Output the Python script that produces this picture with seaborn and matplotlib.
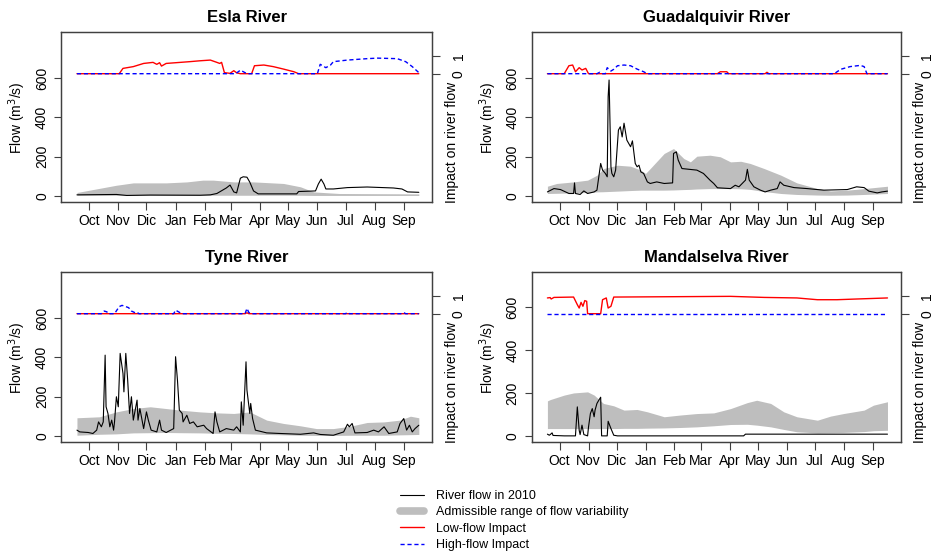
import matplotlib
matplotlib.use("Agg")
import matplotlib.pyplot as plt
from matplotlib.lines import Line2D
import seaborn as sns

sns.set_style("ticks")
plt.rcParams["font.family"] = ["Liberation Sans", "DejaVu Sans"]
plt.rcParams["text.color"] = "black"
plt.rcParams["axes.labelcolor"] = "black"
plt.rcParams["xtick.color"] = "#404040"
plt.rcParams["ytick.color"] = "#404040"
plt.rcParams["xtick.labelcolor"] = "black"
plt.rcParams["ytick.labelcolor"] = "black"

# month labels sit at mid-month (day 1 = 1 Oct)
months = ["Oct", "Nov", "Dic", "Jan", "Feb", "Mar", "Apr", "May", "Jun", "Jul", "Aug", "Sep"]
month_days = [14, 45, 75, 106, 137, 165, 196, 226, 257, 287, 318, 349]

# ---- Esla ----
esla_flow_day = [1, 43, 54, 79, 132, 143, 150, 160, 164, 168, 171, 175, 178, 182, 185, 189, 194,
                 235, 237, 255, 258, 261, 264, 266, 274, 289, 310, 338, 347, 353, 365]
esla_flow = [5, 7, 2, 4, 3, 5, 12, 40, 55, 20, 15, 90, 97, 95, 70, 25, 10,
             10, 22, 25, 60, 85, 60, 35, 35, 42, 45, 40, 35, 20, 18]
esla_band_day = [1, 43, 61, 96, 118, 135, 146, 168, 189, 221, 239, 253, 280, 365]
esla_band_lo = [3, 3, 3, 3, 3, 3, 3, 3, 3, 3, 3, 2, 2, 2]
esla_band_hi = [17, 54, 66, 66, 71, 80, 80, 71, 71, 63, 46, 20, 12, 10]
esla_low_day = [1, 46, 50, 61, 72, 82, 86, 89, 91, 96, 111, 121, 132, 143, 150, 153, 155, 158,
                164, 168, 171, 175, 187, 190, 200, 210, 221, 232, 237, 365]
esla_low = [0, 0, 0.3, 0.4, 0.58, 0.64, 0.53, 0.62, 0.43, 0.58, 0.64, 0.68, 0.73, 0.77, 0.64, 0.58,
            0.64, 0.06, 0.02, 0.17, 0.05, 0, 0, 0.45, 0.49, 0.40, 0.26, 0.11, 0, 0]
esla_high_day = [1, 170, 175, 182, 257, 260, 266, 271, 274, 289, 310, 321, 342, 351, 358, 365]
esla_high = [0, 0, 0.2, 0, 0, 0.53, 0.34, 0.49, 0.68, 0.77, 0.85, 0.88, 0.85, 0.68, 0.4, 0.06]

# ---- Guadalquivir ----
guad_flow_day = [1, 8, 15, 24, 29, 30, 31, 36, 40, 44, 51, 54, 56, 58, 60, 63, 65, 66, 67, 69, 70,
                 72, 74, 77, 79, 81, 83, 86, 90, 92, 95, 97, 99, 101, 104, 108, 111, 118, 126,
                 135, 136, 139, 141, 145, 161, 168, 175, 179, 183, 197, 202, 206, 213, 215, 217,
                 222, 229, 234, 240, 247, 250, 254, 265, 279, 290, 297, 322, 332, 340, 345, 354,
                 359, 365]
guad_flow = [20, 37, 32, 12, 12, 66, 12, 7, 25, 12, 20, 29, 97, 165, 131, 114, 97, 505, 590, 148,
             114, 97, 131, 335, 352, 300, 370, 284, 250, 280, 165, 148, 156, 122, 114, 71, 63, 71,
             63, 66, 216, 224, 182, 139, 131, 114, 80, 63, 41, 37, 54, 46, 80, 135, 80, 46, 29,
             20, 29, 37, 71, 54, 42, 37, 32, 29, 32, 46, 42, 24, 15, 20, 24]
guad_band_day = [1, 11, 29, 44, 54, 61, 76, 90, 101, 106, 111, 126, 136, 147, 154, 161, 175, 186,
                 197, 208, 218, 233, 251, 268, 290, 304, 322, 340, 365]
guad_band_lo = [12, 13, 15, 17, 20, 21, 24, 27, 29, 29, 29, 29, 30, 32, 33, 35, 37, 37, 37, 36,
                33, 22, 12, 7, 4, 3, 4, 7, 12]
guad_band_hi = [49, 63, 71, 80, 105, 139, 156, 151, 131, 114, 139, 216, 241, 190, 173, 202, 207,
                199, 173, 176, 165, 139, 105, 66, 37, 25, 29, 37, 49]
guad_low_day = [1, 19, 24, 28, 31, 35, 38, 42, 45, 183, 186, 193, 195, 234, 236, 238, 365]
guad_low = [0, 0, 0.45, 0.49, 0.11, 0.34, 0.21, 0.30, 0, 0, 0.11, 0.11, 0, 0, 0.08, 0, 0]
guad_high_day = [1, 54, 57, 59, 63, 65, 69, 72, 76, 83, 90, 97, 104, 108, 308, 315, 325, 336,
                 340, 343, 365]
guad_high = [0, 0, 0.08, 0, 0, 0.34, 0.15, 0.25, 0.45, 0.49, 0.45, 0.26, 0.11, 0, 0, 0.25, 0.4,
             0.47, 0.4, 0, 0]

# ---- Tyne ----
tyne_flow_day = [1, 4, 13, 18, 22, 24, 27, 29, 31, 32, 34, 36, 38, 40, 41, 43, 45, 47, 50, 51, 53,
                 55, 57, 59, 61, 65, 66, 68, 72, 75, 77, 80, 86, 89, 91, 96, 104, 106, 108, 110,
                 113, 114, 118, 121, 125, 129, 136, 139, 146, 148, 150, 153, 160, 168, 171, 175,
                 176, 178, 181, 182, 185, 186, 188, 191, 203, 217, 239, 253, 260, 274, 285, 289,
                 291, 294, 297, 310, 317, 322, 328, 333, 342, 345, 349, 352, 355, 358, 361, 365]
tyne_flow = [29, 20, 17, 12, 29, 71, 46, 71, 411, 148, 114, 46, 80, 29, 71, 199, 148, 420, 318,
             224, 420, 284, 114, 199, 80, 182, 80, 139, 37, 122, 80, 29, 20, 80, 29, 17, 37, 403,
             284, 131, 114, 71, 105, 63, 71, 46, 54, 37, 12, 122, 71, 20, 37, 29, 46, 20, 173, 54,
             377, 233, 114, 165, 88, 29, 15, 12, 8, 15, 7, 3, 20, 59, 46, 63, 15, 17, 29, 20, 46,
             12, 20, 63, 88, 29, 54, 20, 37, 54]
tyne_band_day = [1, 25, 43, 61, 79, 96, 111, 132, 150, 168, 185, 203, 221, 239, 256, 274, 292,
                 310, 328, 345, 356, 365]
tyne_band_lo = [3, 8, 10, 15, 16, 17, 16, 15, 13, 12, 10, 7, 5, 3, 2, 2, 3, 3, 3, 5, 6, 7]
tyne_band_hi = [92, 97, 122, 139, 148, 139, 131, 122, 117, 114, 122, 80, 63, 51, 37, 37, 49, 68,
                71, 80, 100, 92]
tyne_low_day = [1, 180, 182, 184, 365]
tyne_low = [0, 0, 0.05, 0, 0]
tyne_high_day = [1, 27, 30, 33, 34, 41, 46, 49, 52, 56, 59, 63, 65, 67, 104, 106, 111, 113, 180,
                 182, 184, 186, 287, 289, 291, 347, 349, 351, 365]
tyne_high = [0, 0, 0.15, 0.1, 0, 0, 0.4, 0.47, 0.42, 0.34, 0.15, 0.05, 0.08, 0, 0, 0.2, 0.05, 0,
             0, 0.3, 0.07, 0, 0, 0.08, 0, 0, 0.06, 0, 0]

# ---- Mandalselva ----
mand_flow_day = [1, 3, 4, 6, 7, 19, 31, 33, 35, 36, 38, 40, 44, 45, 47, 49, 51, 52, 54, 56, 58,
                 59, 65, 66, 69, 72, 76, 211, 213, 365]
mand_flow = [8, 3, 6, 14, 2, 0, 0, 135, 26, 6, 50, 6, 0, 42, 104, 127, 89, 120, 151, 166, 180,
             0, 0, 68, 34, 3, 0, 0, 8, 8]
mand_band_day = [1, 4, 19, 29, 44, 51, 61, 72, 83, 97, 108, 126, 143, 161, 179, 197, 215, 225,
                 240, 254, 268, 290, 304, 318, 340, 350, 365]
mand_band_lo = [34, 34, 34, 34, 34, 34, 34, 34, 35, 35, 36, 37, 39, 42, 47, 53, 54, 50, 42, 30,
                19, 14, 15, 16, 20, 24, 26]
mand_band_hi = [163, 169, 190, 200, 205, 190, 151, 140, 120, 123, 112, 89, 97, 104, 107, 127, 155,
                166, 151, 112, 89, 73, 92, 104, 120, 143, 159]
mand_low_day = [1, 4, 5, 8, 29, 33, 35, 37, 39, 41, 43, 44, 58, 60, 64, 66, 69, 72, 197, 233, 268,
                290, 311, 332, 365]
mand_low = [0.89, 0.91, 0.83, 0.92, 0.94, 0.51, 0.32, 0.64, 0.42, 0.74, 0.70, 0, 0, 0.79, 0.89,
            0.32, 0.42, 0.94, 0.98, 0.92, 0.89, 0.79, 0.79, 0.83, 0.89]
mand_high_day = [1, 365]
mand_high = [0, 0]

panels = [
    ("Esla River", [0.0658, 0.6348, 0.3972, 0.3069], (-33, 833),
     esla_flow_day, esla_flow, esla_band_day, esla_band_lo, esla_band_hi,
     esla_low_day, esla_low, esla_high_day, esla_high),
    ("Guadalquivir River", [0.5696, 0.6348, 0.3951, 0.3069], (-33, 833),
     guad_flow_day, guad_flow, guad_band_day, guad_band_lo, guad_band_hi,
     guad_low_day, guad_low, guad_high_day, guad_high),
    ("Tyne River", [0.0658, 0.2016, 0.3972, 0.3069], (-33, 833),
     tyne_flow_day, tyne_flow, tyne_band_day, tyne_band_lo, tyne_band_hi,
     tyne_low_day, tyne_low, tyne_high_day, tyne_high),
    ("Mandalselva River", [0.5696, 0.2016, 0.3951, 0.3069], (-30, 762),
     mand_flow_day, mand_flow, mand_band_day, mand_band_lo, mand_band_hi,
     mand_low_day, mand_low, mand_high_day, mand_high),
]

band_color = "#bebebe"
box_color = "#404040"
dash = (0, (3, 2))
fs = 10

fig = plt.figure(figsize=(9.34, 5.54), dpi=100)

for (title, rect, ylim, fd, fv, bd, blo, bhi, ld, lv, hd, hv) in panels:
    ax = fig.add_axes(rect)
    ax.fill_between(bd, blo, bhi, color=band_color, lw=0)
    sns.lineplot(x=fd, y=fv, ax=ax, color="black", lw=0.8)
    ax.set_xlim(-15.5, 379.5)
    ax.set_ylim(*ylim)
    ax.set_xticks(month_days, months)
    ax.set_yticks([0, 200, 400, 600])
    ax.set_xlabel("")
    ax.set_ylabel("")
    ax.tick_params(axis="both", direction="out", length=5.4, width=0.8, labelsize=fs)
    ax.tick_params(axis="x", pad=3)
    ax.tick_params(axis="y", pad=3.5, labelrotation=90)
    for t in ax.get_yticklabels():
        t.set_va("center")
    for s in ax.spines.values():
        s.set_visible(True)
        s.set_linewidth(0.9)
        s.set_color(box_color)
    ax.set_title(title, fontsize=12, fontweight="bold", pad=7.6)
    ax.text(-0.12, 0.5, "Flow (m$^3$/s)", transform=ax.transAxes, rotation=90,
            ha="center", va="center", fontsize=fs)

    ax2 = ax.twinx()
    sns.lineplot(x=ld, y=lv, ax=ax2, color="red", lw=1)
    sns.lineplot(x=hd, y=hv, ax=ax2, color="blue", lw=1, linestyle=dash)
    ax2.set_ylim(-7.27, 2.34)
    ax2.set_yticks([0, 1])
    ax2.set_ylabel("")
    ax2.tick_params(axis="y", direction="out", length=5.4, width=0.8, labelsize=fs,
                    pad=8.5, labelrotation=90)
    for t in ax2.get_yticklabels():
        t.set_va("center")
    for s in ax2.spines.values():
        s.set_linewidth(0.9)
        s.set_color(box_color)
    ax.text(1.052, 0.35, "Impact on river flow", transform=ax.transAxes, rotation=90,
            ha="center", va="center", fontsize=fs)

handles = [
    Line2D([], [], color="black", lw=0.8),
    Line2D([], [], color=band_color, lw=5.5, solid_capstyle="round"),
    Line2D([], [], color="red", lw=1),
    Line2D([], [], color="blue", lw=1, linestyle=dash),
]
labels = ["River flow in 2010", "Admissible range of flow variability",
          "Low-flow Impact", "High-flow Impact"]
fig.legend(handles, labels, loc="upper left", bbox_to_anchor=(400 / 934, 1 - 490 / 554),
           frameon=False, fontsize=9, handlelength=1.9, handletextpad=1.0,
           labelspacing=0.35, borderpad=0, borderaxespad=0)

fig.savefig("out.png", dpi=100)
